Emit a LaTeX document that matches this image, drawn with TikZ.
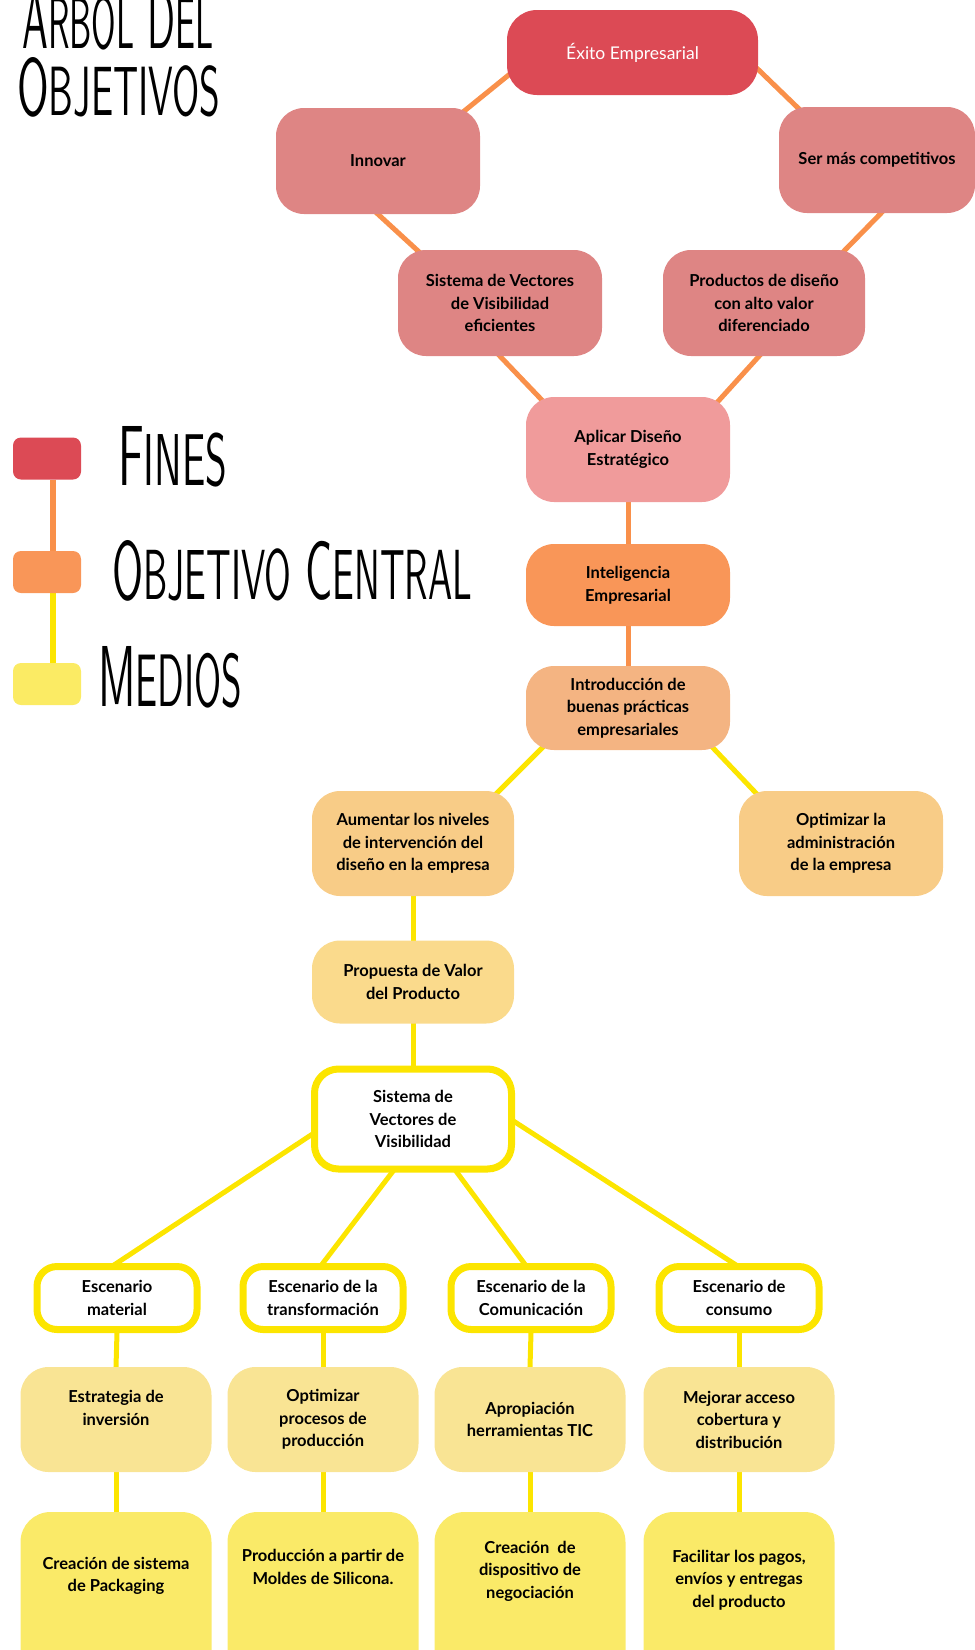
\documentclass[tikz,border=0pt]{standalone}
\usepackage{fontspec}
\usepackage{graphicx}
\setmainfont{Lato}
\usetikzlibrary{backgrounds}

\definecolor{cFin}{HTML}{DC4A55}
\definecolor{cPink}{HTML}{DE8584}
\definecolor{cRose}{HTML}{F09B9B}
\definecolor{cOrange}{HTML}{F99658}
\definecolor{cPeach}{HTML}{F4B482}
\definecolor{cApricot}{HTML}{F8CC87}
\definecolor{cSand}{HTML}{FADA8C}
\definecolor{cCream}{HTML}{F9E494}
\definecolor{cLemon}{HTML}{FAEA68}
\definecolor{cMedios}{HTML}{FBEB64}
\definecolor{lineOrange}{HTML}{F9904A}
\definecolor{lineYellow}{HTML}{FCE500}

% small-caps look for the hand-lettered headings
\newcommand\smc[1]{\scalebox{0.86}{#1}}
\newcommand\heading[3]{\resizebox{#1}{#2}{\sffamily #3}}

\begin{document}
\begin{tikzpicture}[x=1pt,y=-1pt,
  conn/.style={line width=5pt, shorten <=-10pt, shorten >=-10pt},
  org/.style={conn, draw=lineOrange},
  yel/.style={conn, draw=lineYellow},
  box/.style={rounded corners=28pt, align=center, inner sep=2pt,
    font=\bfseries\fontsize{16.5}{22.5}\selectfont, text=black},
  frame/.style={box, draw=lineYellow, fill=white, line width=7pt, rounded corners=20pt},
  lbl/.style={align=center, inner sep=0pt, font=\bfseries\fontsize{16.5}{22.5}\selectfont},
  legbox/.style={rounded corners=8pt, minimum width=68pt, minimum height=42pt},
  legline/.style={line width=6pt},
  head/.style={inner sep=0pt, anchor=south west},
]
\useasboundingbox (0,0) rectangle (975,1650);

% title
\node[head] (t1) at (22,50) {\heading{191pt}{59pt}{A\smc{RBOL} D\smc{EL}}};
\node[head] (t2) at (17,117) {\heading{203pt}{58pt}{O\smc{BJETIVOS}}};

% legend
\node[legbox, fill=cFin] (leg1) at (47,458.5) {};
\node[legbox, fill=cOrange] (leg2) at (47,572) {};
\node[legbox, fill=cMedios] (leg3) at (47,684) {};
\node[head] (legt1) at (118,487) {\heading{109pt}{59pt}{F\smc{INES}}};
\node[head] (legt2) at (112,602) {\heading{360pt}{59pt}{O\smc{BJETIVO} C\smc{ENTRAL}}};
\node[head] (legt3) at (98,708) {\heading{144pt}{60pt}{M\smc{EDIOS}}};

% ends
\node[box, fill=cFin, text=white, font=\fontsize{17.5}{22.5}\selectfont,
  minimum width=251pt, minimum height=85pt, rounded corners=30pt] (exito) at (632.5,52.5) {Éxito Empresarial};
\node[box, fill=cPink, minimum width=204pt, minimum height=106pt] (innovar) at (378,161) {Innovar};
\node[box, fill=cPink, minimum width=196pt, minimum height=106pt] (ser) at (877,160) {Ser más competitivos};
\node[box, fill=cPink, minimum width=204pt, minimum height=106pt] (sva) at (500,303) {Sistema de Vectores\\de Visibilidad\\eficientes};
\node[box, fill=cPink, minimum width=202pt, minimum height=106pt] (prod) at (764,303) {Productos de diseño\\con alto valor\\diferenciado};
\node[box, fill=cRose, minimum width=204pt, minimum height=105pt] (aplicar) at (628,449.5) {Aplicar Diseño\\Estratégico};

% central objective
\node[box, fill=cOrange, minimum width=204pt, minimum height=82pt] (intel) at (628,585) {Inteligencia\\Empresarial};

% means
\node[box, fill=cPeach, minimum width=204pt, minimum height=84pt] (intro) at (628,708) {Introducción de\\buenas prácticas\\empresariales};
\node[box, fill=cApricot, minimum width=202pt, minimum height=105pt] (aum) at (413,843.5) {Aumentar los niveles\\de intervención del\\diseño en la empresa};
\node[box, fill=cApricot, minimum width=204pt, minimum height=105pt] (optadm) at (841,843.5) {Optimizar la\\administración\\de la empresa};
\node[box, fill=cSand, minimum width=202pt, minimum height=83pt] (prop) at (413,982) {Propuesta de Valor\\del Producto};
\node[frame, minimum width=197pt, minimum height=100pt, rounded corners=24pt] (svb) at (413,1119) {Sistema de\\Vectores de\\Visibilidad};

\node[frame, minimum width=160pt, minimum height=63pt] (esc1) at (117,1298) {Escenario\\material};
\node[frame, minimum width=160pt, minimum height=63pt] (esc2) at (323,1298) {Escenario de la\\transformación};
\node[frame, minimum width=160pt, minimum height=63pt] (esc3) at (531,1298) {Escenario de la\\Comunicación};
\node[frame, minimum width=160pt, minimum height=63pt] (esc4) at (739,1298) {Escenario de\\consumo};

\node[box, fill=cCream, minimum width=191pt, minimum height=105pt] (mid1) at (116,1419.5) {};
\node[lbl] (mid1t) at (116,1408) {Estrategia de\\inversión};
\node[box, fill=cCream, minimum width=191pt, minimum height=105pt] (mid2) at (323,1419.5) {Optimizar\\procesos de\\producción};
\node[box, fill=cCream, minimum width=191pt, minimum height=105pt] (mid3) at (530,1419.5) {Apropiación\\herramientas TIC};
\node[box, fill=cCream, minimum width=191pt, minimum height=105pt] (mid4) at (739,1419.5) {Mejorar acceso\\cobertura y\\distribución};

\node[box, fill=cLemon, minimum width=191pt, minimum height=170pt, rounded corners=30pt] (bot1) at (116,1597) {};
\node[box, fill=cLemon, minimum width=191pt, minimum height=170pt, rounded corners=30pt] (bot2) at (323,1597) {};
\node[box, fill=cLemon, minimum width=191pt, minimum height=170pt, rounded corners=30pt] (bot3) at (530,1597) {};
\node[box, fill=cLemon, minimum width=191pt, minimum height=170pt, rounded corners=30pt] (bot4) at (739,1597) {};
\node[lbl] (bot1t) at (116,1576) {Creación de sistema\\de Packaging};
\node[lbl] (bot2t) at (323,1567) {Producción a partir de\\Moldes de Silicona.};
\node[lbl] (bot3t) at (530,1571) {Creación\ \ de\\dispositivo de\\negociación};
\node[lbl] (bot4t) at (739,1580) {Facilitar los pagos,\\envíos y entregas\\del producto};

\begin{scope}[on background layer]
  % legend links
  \draw[legline, draw=lineOrange] ([xshift=6pt]leg1.south) -- ([xshift=6pt]leg2.north);
  \draw[legline, draw=lineYellow] ([xshift=6pt]leg2.south) -- ([xshift=6pt]leg3.north);
  % ends
  \draw[org] ([yshift=-24pt]exito.west) -- ([xshift=-12pt]innovar.north east);
  \draw[org] ([yshift=-17pt]exito.east) -- ([xshift=18pt]ser.north west);
  \draw[org] (innovar.south) -- ([xshift=19pt]sva.north west);
  \draw[org] ([xshift=4pt]ser.south) -- ([xshift=-20pt]prod.north east);
  \draw[org] (sva.south) -- ([xshift=13pt]aplicar.north west);
  \draw[org] ([xshift=-5pt]prod.south) -- ([xshift=-8pt]aplicar.north east);
  \draw[org] (aplicar.south) -- (intel.north);
  \draw[org] (intel.south) -- (intro.north);
  % means
  \draw[yel] ([xshift=14pt]intro.south west) -- ([xshift=-15pt]aum.north east);
  \draw[yel] ([xshift=-15pt]intro.south east) -- ([xshift=15pt]optadm.north west);
  \draw[yel] (aum.south) -- (prop.north);
  \draw[yel] (prop.south) -- (svb.north);
  \draw[yel] ([yshift=-16pt]svb.west) -- (esc1.north);
  \draw[yel] ([xshift=-21pt]svb.south) -- (esc2.north);
  \draw[yel] ([xshift=44pt]svb.south) -- ([xshift=-7pt]esc3.north);
  \draw[yel] ([yshift=-3pt]svb.east) -- ([xshift=-6pt]esc4.north);
  \foreach \i in {1,2,3,4} {
    \draw[yel] (esc\i.south) -- (mid\i.north);
    \draw[yel] (mid\i.south) -- (bot\i.north);
  }
\end{scope}
\end{tikzpicture}
\end{document}
